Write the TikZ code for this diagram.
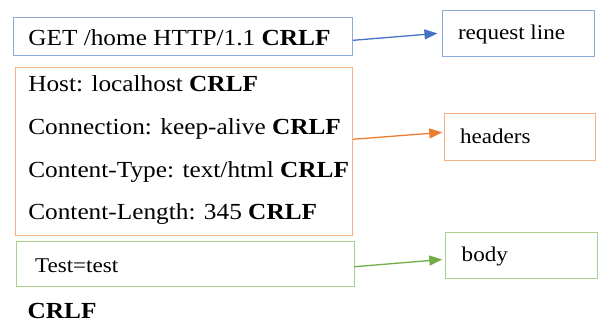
\documentclass[tikz,border=0pt]{standalone}
\usepackage{fontspec}
\usepackage{graphicx}
\setmainfont{Liberation Serif}
\usetikzlibrary{arrows.meta}
\definecolor{bluebox}{HTML}{8EAADB}
\definecolor{bluearr}{HTML}{4472C4}
\definecolor{orangebox}{HTML}{F4B183}
\definecolor{orangearr}{HTML}{ED7D31}
\definecolor{greenbox}{HTML}{A9D18E}
\definecolor{greenarr}{HTML}{70AD47}
\newcommand\ltxt[1]{\scalebox{1.1}[1]{\fontsize{23}{27}\selectfont #1}}
\newcommand\rtxt[1]{\scalebox{1.1}[1]{\fontsize{21}{25}\selectfont #1}}
\begin{document}
\begin{tikzpicture}[x=1pt,y=-1pt,
  box/.style={draw=#1, line width=0.9pt, inner sep=0pt, rectangle},
  txt/.style={anchor=base west, inner sep=0pt, outer sep=0pt},
  conn/.style={draw=#1, line width=1.3pt, -{Triangle[length=13pt,width=10pt]}}]
\useasboundingbox (0,0) rectangle (599,322);
% boxes
\node[box=bluebox, minimum width=339.4pt, minimum height=37.7pt] (b1) at (183,36.2) {};
\node[box=bluebox, minimum width=152pt, minimum height=46pt] (rl) at (518.5,33) {};
\node[box=orangebox, minimum width=337.3pt, minimum height=167.7pt] (b2) at (183.7,151.2) {};
\node[box=orangebox, minimum width=151.7pt, minimum height=46.7pt] (hd) at (519.8,136.7) {};
\node[box=greenbox, minimum width=338pt, minimum height=45pt] (b3) at (185,264.2) {};
\node[box=greenbox, minimum width=152pt, minimum height=46pt] (bd) at (521,255.3) {};
% texts
\node[txt] (t1) at (28.3,45) {\ltxt{GET /home HTTP/1.1 \textbf{CRLF}}};
\node[txt] (t2) at (28.3,91) {\ltxt{Host: localhost \textbf{CRLF}}};
\node[txt] (t3) at (28.3,134) {\ltxt{Connection: keep-alive \textbf{CRLF}}};
\node[txt] (t4) at (28.3,177.3) {\ltxt{Content-Type: text/html \textbf{CRLF}}};
\node[txt] (t5) at (28.3,219.3) {\ltxt{Content-Length: 345 \textbf{CRLF}}};
\node[txt] (t6) at (35,272.3) {\rtxt{Test=test}};
\node[txt] (t7) at (27.7,318.5) {\ltxt{\textbf{CRLF}}};
\node[txt] (l1) at (458,39.3) {\rtxt{request line}};
\node[txt] (l2) at (460,143.3) {\rtxt{headers}};
\node[txt] (l3) at (461.7,261.7) {\rtxt{body}};
% connectors
\draw[conn=bluearr, shorten >=4.6pt] ([yshift=-4.1pt]b1.east) -- (rl.west);
\draw[conn=orangearr, shorten >=1.3pt] ([yshift=11.9pt]b2.east) -- ([yshift=4.4pt]hd.west);
\draw[conn=greenarr, shorten >=2.3pt] ([yshift=-2.5pt]b3.east) -- ([yshift=-4pt]bd.west);
\end{tikzpicture}
\end{document}
